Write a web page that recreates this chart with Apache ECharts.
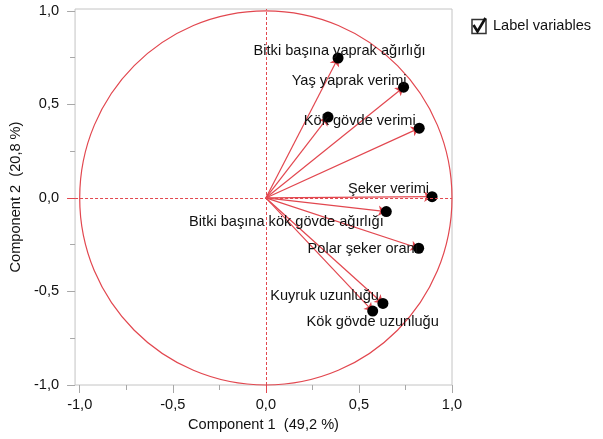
<!DOCTYPE html>
<html>
<head>
<meta charset="utf-8">
<script src="https://cdn.jsdelivr.net/npm/echarts@6/dist/echarts.min.js"></script>
<style>
  html, body { margin: 0; padding: 0; background: #fff; }
  #chart { width: 603px; height: 439px; }
</style>
</head>
<body>
<div id="chart"></div>
<script>
// Loadings of each variable on the first two principal components
const variables = [
  'Bitki başına yaprak ağırlığı',
  'Yaş yaprak verimi',
  '',
  'Kök gövde verimi',
  'Şeker verimi',
  'Bitki başına kök gövde ağırlığı',
  'Polar şeker oranı',
  'Kuyruk uzunluğu',
  'Kök gövde uzunluğu'
];
const comp1 = [0.388, 0.740, 0.334, 0.824, 0.893, 0.647, 0.821, 0.629, 0.574];
const comp2 = [0.748, 0.592, 0.432, 0.373, 0.007, -0.073, -0.269, -0.564, -0.605];

// Axis tick positions and labels
const tickLabels = [-1, -0.5, 0, 0.5, 1];
const majorTicks = [-1, -0.5, 0.5, 1];
const minorTicks = [-0.75, -0.25, 0.25, 0.75];
const zeroTick = [0];
const xTitle = 'Component 1  (49,2 %)';
const yTitle = 'Component 2  (20,8 %)';
const legendText = 'Label variables';

const RED = '#e2474f';
const FRAME = '#c4c4c4';
const TEXT = '#111111';
const FONT = '"Liberation Sans", Arial, Helvetica, sans-serif';
const FS = 14.6;

// Where each variable name sits relative to its point
const labelPlacement = [
  { align: 'center', offset: [1.5, -7] },
  { align: 'right', offset: [3, -6.5] },
  null,
  { align: 'right', offset: [-3.5, -7.5] },
  { align: 'right', offset: [-3, -7.5] },
  { align: 'right', offset: [-2.5, 10] },
  { align: 'right', offset: [0, 0.5] },
  { align: 'right', offset: [-4, -7.5] },
  { align: 'center', offset: [0, 10.5] }
];

const fmt = v => v.toFixed(1).replace('.', ',');

function axisSet(dim, min, max) {
  const isX = dim === 'x';
  const base = {
    type: 'value', min: min, max: max,
    position: isX ? 'bottom' : 'left',
    axisLine: { show: false, onZero: false },
    splitLine: { show: false },
    axisLabel: { show: false }
  };
  return [
    Object.assign({}, base, {
      axisTick: { show: true, customValues: majorTicks, length: 8, lineStyle: { color: '#a8a8a8', width: 1 } },
      axisLabel: {
        show: true, customValues: tickLabels, formatter: fmt,
        color: TEXT, fontSize: FS, fontFamily: FONT,
        margin: isX ? 12 : 16
      },
      name: isX ? xTitle : yTitle,
      nameLocation: 'middle',
      nameGap: isX ? 32 : 43,
      nameTextStyle: { color: TEXT, fontSize: FS, fontFamily: FONT }
    }),
    Object.assign({}, base, {
      axisTick: { show: true, customValues: minorTicks, length: 5, lineStyle: { color: '#a8a8a8', width: 1 } }
    }),
    Object.assign({}, base, {
      axisTick: { show: true, customValues: zeroTick, length: 8, lineStyle: { color: RED, width: 1 } }
    })
  ];
}

const points = comp1.map((x, i) => {
  const p = labelPlacement[i];
  return {
    name: variables[i],
    value: [x, comp2[i]],
    label: p ? {
      show: true, position: 'inside', align: p.align, verticalAlign: 'middle',
      offset: p.offset, formatter: '{b}'
    } : { show: false }
  };
});

const arrows = comp1.map((x, i) => ({ coords: [[0, 0], [x, comp2[i]]] }));

const chart = echarts.init(document.getElementById('chart'), null, { renderer: 'canvas' });
chart.setOption({
  animation: false,
  grid: {
    left: 75, right: 151, top: 9, bottom: 54,
    show: true, borderColor: FRAME, borderWidth: 1, backgroundColor: 'transparent'
  },
  xAxis: axisSet('x', -1.025, 1),
  yAxis: axisSet('y', -1, 1.01),
  graphic: [
    { type: 'rect', shape: { x: 472, y: 19.5, width: 14, height: 14 },
      style: { fill: '#fff', stroke: '#333', lineWidth: 1.5 } },
    { type: 'polyline', shape: { points: [[473.5, 25], [477.5, 31.5], [485.5, 18]] },
      style: { fill: 'none', stroke: '#111', lineWidth: 2.6 } },
    { type: 'text', x: 493, y: 25.5,
      style: { text: legendText, fill: TEXT, fontSize: FS, fontFamily: FONT, verticalAlign: 'middle' } }
  ],
  series: [
    {
      // unit correlation circle
      type: 'custom',
      silent: true,
      data: [[0, 0]],
      renderItem: function (params, api) {
        const c = api.coord([0, 0]);
        const s = api.size([1, 1]);
        return {
          type: 'ellipse',
          shape: { cx: c[0], cy: c[1], rx: s[0], ry: s[1] },
          style: { fill: 'none', stroke: RED, lineWidth: 1.2 }
        };
      },
      markLine: {
        silent: true,
        symbol: ['none', 'none'],
        label: { show: false },
        lineStyle: { color: RED, type: [3, 2], width: 1 },
        data: [{ xAxis: 0 }, { yAxis: 0 }]
      },
      z: 1
    },
    {
      type: 'lines',
      coordinateSystem: 'cartesian2d',
      silent: true,
      symbol: ['none', 'arrow'],
      symbolSize: 8,
      lineStyle: { color: RED, width: 1.2, opacity: 1 },
      data: arrows,
      z: 2
    },
    {
      type: 'scatter',
      symbol: 'circle',
      symbolSize: 11,
      itemStyle: { color: '#000', opacity: 1 },
      label: { color: TEXT, fontSize: FS, fontFamily: FONT },
      data: points,
      z: 3
    }
  ]
});
</script>
</body>
</html>
